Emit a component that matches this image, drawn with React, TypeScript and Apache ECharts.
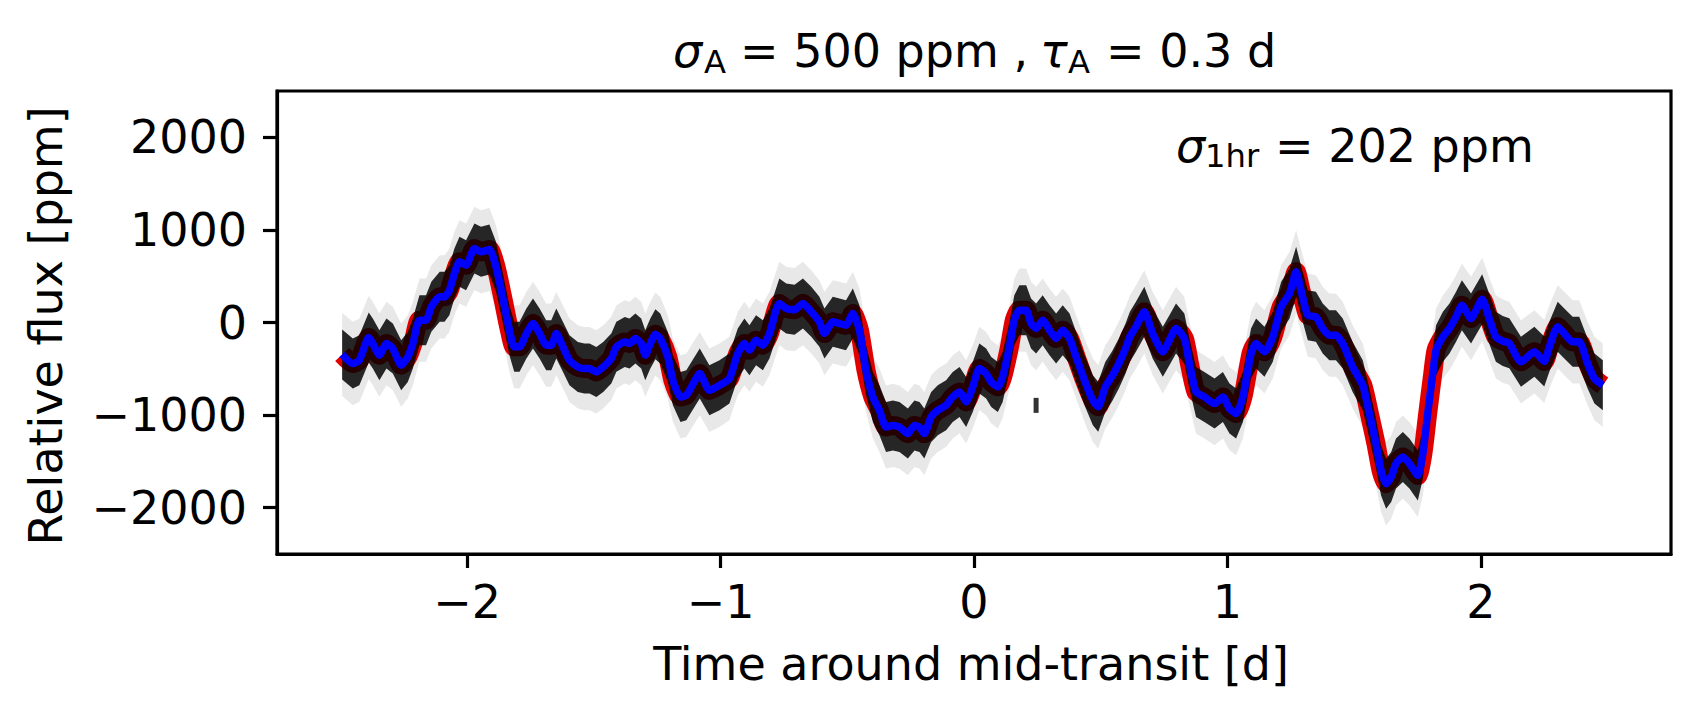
import React, { useEffect, useRef } from "react";
import * as echarts from "echarts";

// ---- data ----
// time around mid-transit [d] for the blue (smoothed) light curve
const timeDays = [
  -2.493, -2.451, -2.425, -2.388, -2.372, -2.346, -2.318, -2.293, -2.26, -2.234,
  -2.214, -2.188, -2.162, -2.141, -2.108, -2.089, -2.07, -2.05, -2.03, -2.004,
  -1.971, -1.945, -1.912, -1.886, -1.86, -1.833, -1.814, -1.793, -1.766, -1.74,
  -1.714, -1.688, -1.668, -1.648, -1.622, -1.596, -1.563, -1.537, -1.517, -1.49,
  -1.463, -1.431, -1.411, -1.378, -1.359, -1.336, -1.313, -1.297, -1.277, -1.257,
  -1.238, -1.208, -1.188, -1.158, -1.135, -1.115, -1.082, -1.044, -1.004, -0.965,
  -0.932, -0.906, -0.886, -0.86, -0.833, -0.807, -0.768, -0.741, -0.708, -0.675,
  -0.642, -0.61, -0.59, -0.557, -0.531, -0.505, -0.478, -0.452, -0.426, -0.399,
  -0.373, -0.347, -0.32, -0.294, -0.261, -0.235, -0.215, -0.196, -0.169, -0.143,
  -0.11, -0.084, -0.057, -0.031, -0.005, 0.021, 0.048, 0.068, 0.094, 0.113,
  0.14, 0.159, 0.179, 0.206, 0.225, 0.245, 0.271, 0.298, 0.324, 0.35,
  0.377, 0.403, 0.436, 0.469, 0.49, 0.518, 0.545, 0.572, 0.598, 0.615,
  0.639, 0.672, 0.705, 0.745, 0.771, 0.797, 0.83, 0.85, 0.876, 0.909,
  0.949, 0.982, 1.008, 1.034, 1.061, 1.093, 1.113, 1.146, 1.179, 1.212,
  1.245, 1.271, 1.29, 1.317, 1.349, 1.376, 1.402, 1.428, 1.455, 1.494,
  1.534, 1.56, 1.586, 1.606, 1.626, 1.646, 1.665, 1.692, 1.718, 1.751,
  1.771, 1.79, 1.81, 1.823, 1.85, 1.876, 1.902, 1.925, 1.961, 2.005,
  2.033, 2.059, 2.086, 2.112, 2.158, 2.211, 2.25, 2.27, 2.303, 2.329,
  2.362, 2.388, 2.421, 2.448, 2.481,
];

// relative flux [ppm] of the blue curve at those times
const smoothFlux = [
  -345, -443, -408, -162, -227, -353, -227, -281, -461, -372,
  -227, 25, 25, 169, 277, 277, 349, 530, 655, 619,
  800, 763, 789, 601, 277, -83, -263, -263, -119, -11,
  -119, -245, -245, -119, -263, -408, -480, -498, -498, -534,
  -480, -389, -263, -210, -227, -173, -227, -353, -227, -126,
  -173, -372, -624, -804, -786, -696, -552, -732, -678, -605,
  -335, -227, -299, -191, -245, -119, 205, 151, 139, 205,
  115, 7, -119, 7, -11, -29, 97, -83, -516, -804,
  -948, -1129, -1111, -1129, -1200, -1111, -1129, -1200, -1020, -948,
  -894, -804, -750, -858, -696, -497, -552, -642, -696, -588,
  -263, 25, 133, 133, -11, -65, 25, -83, -173, -83,
  -173, -372, -624, -840, -910, -696, -580, -440, -280, -155,
  -47, 115, -119, -317, -191, -65, -173, -443, -750, -804,
  -876, -804, -930, -984, -804, -335, -227, -317, -155, 169,
  313, 547, 349, 79, 61, -65, -137, -137, -227, -480,
  -678, -984, -1308, -1597, -1741, -1669, -1524, -1453, -1524, -1651,
  -1417, -984, -552, -299, -155, -65, 61, 187, 43, 250,
  40, -155, -200, -225, -425, -317, -420, -263, -47, -119,
  -209, -209, -443, -605, -678,
];

// spread of the black data points around the curve [ppm]
const CLOUD_CORE_PPM = 270;
const CLOUD_HALO_PPM = 450;

// the small vertical black mark
const markerPoints = [[0.245, -895]];

const xTicks = [-2, -1, 0, 1, 2];
const yTicks = [-2000, -1000, 0, 1000, 2000];
const X_MIN = -2.75;
const X_MAX = 2.75;
const Y_MIN = -2500;
const Y_MAX = 2500;

const FONT = "'DejaVu Sans', 'Noto Sans', sans-serif";
const FS = 46;
const SUB = FS * 0.7;
const CENTRAL = 0.346; // central baseline offset (em) for DejaVu Sans

const fmt = (v: number) => (v < 0 ? "\u2212" + Math.abs(v) : String(v));

function txt(
  text: string,
  x: number,
  baseline: number,
  size: number,
  italic = false,
  align = "left",
  rotation = 0
) {
  return {
    type: "text",
    x,
    y: rotation ? baseline : baseline - CENTRAL * size,
    rotation,
    silent: true,
    z: 100,
    style: {
      text,
      fontSize: size,
      fontFamily: FONT,
      fontStyle: italic ? "italic" : "normal",
      fill: "#000",
      textAlign: align,
      align,
      textVerticalAlign: "middle",
      verticalAlign: "middle",
    },
  };
}

export default function App() {
  const ref = useRef<HTMLDivElement>(null);

  useEffect(() => {
    if (!ref.current) return;
    const chart = echarts.init(ref.current, null, { renderer: "svg" });
    const curve = timeDays.map((t, i) => [t, smoothFlux[i]]);

    const band = (half: number, fill: string, z: number) => ({
      type: "custom",
      coordinateSystem: "cartesian2d",
      silent: true,
      clip: true,
      z,
      data: [[0, 0]],
      renderItem: (_params: any, api: any) => {
        const up = timeDays.map((t, i) => api.coord([t, smoothFlux[i] + half]));
        const lo = timeDays
          .map((t, i) => api.coord([t, smoothFlux[i] - half]))
          .reverse();
        return {
          type: "polygon",
          shape: { points: up.concat(lo) },
          style: { fill, stroke: "none" },
        };
      },
    });

    const axisCommon = {
      type: "value",
      axisLine: { show: true, onZero: false, lineStyle: { color: "#000", width: 3.2 } },
      splitLine: { show: false },
    };

    chart.setOption({
      animation: false,
      backgroundColor: "#fff",
      grid: {
        left: 277,
        top: 91,
        right: 29,
        bottom: 165,
        containLabel: false,
        outerBoundsMode: "none",
        show: true,
        borderColor: "#000",
        borderWidth: 3.2,
        backgroundColor: "transparent",
      },
      xAxis: {
        ...axisCommon,
        min: X_MIN,
        max: X_MAX,
        axisTick: {
          show: true,
          length: 14,
          customValues: xTicks,
          lineStyle: { color: "#000", width: 3.2 },
        },
        axisLabel: {
          customValues: xTicks,
          formatter: fmt,
          margin: 25,
          fontSize: FS,
          fontFamily: FONT,
          color: "#000",
        },
      },
      yAxis: {
        ...axisCommon,
        min: Y_MIN,
        max: Y_MAX,
        axisTick: {
          show: true,
          length: 14,
          customValues: yTicks,
          lineStyle: { color: "#000", width: 3.2 },
        },
        axisLabel: {
          customValues: yTicks,
          formatter: fmt,
          margin: 30,
          fontSize: FS,
          fontFamily: FONT,
          color: "#000",
        },
      },
      series: [
        band(CLOUD_HALO_PPM, "rgba(0,0,0,0.09)", 1),
        {
          type: "line",
          z: 2,
          data: curve,
          showSymbol: false,
          symbol: "none",
          silent: true,
          smooth: 0.2,
          lineStyle: { color: "#e00000", width: 19, join: "round", cap: "butt" },
        },
        band(CLOUD_CORE_PPM, "rgba(0,0,0,0.84)", 3),
        {
          type: "line",
          z: 4,
          data: curve,
          showSymbol: false,
          symbol: "none",
          silent: true,
          smooth: 0.2,
          lineStyle: { color: "#0000ff", width: 7.5, join: "round", cap: "butt" },
        },
        {
          type: "scatter",
          z: 5,
          data: markerPoints,
          symbol: "rect",
          symbolSize: [5, 15],
          silent: true,
          itemStyle: { color: "#000" },
        },
      ],
      graphic: [
        // title
        txt("\u03c3", 673, 67, FS, true),
        txt("A", 704, 72.7, SUB),
        txt("= 500 ppm ,", 740, 67, FS),
        txt("\u03c4", 1040, 67, FS, true),
        txt("A", 1068, 72.7, SUB),
        txt("= 0.3 d", 1106, 67, FS),
        // annotation
        txt("\u03c3", 1176, 161.7, FS, true),
        txt("1hr", 1205, 167.3, SUB),
        txt("= 202 ppm", 1275, 161.7, FS),
        // axis titles
        txt("Time around mid-transit [d]", 971, 680, FS, false, "center"),
        txt("Relative flux [ppm]", 46, 326, FS, false, "center", Math.PI / 2),
      ],
    });

    return () => chart.dispose();
  }, []);

  return (
    <div
      ref={ref}
      style={{ position: "fixed", left: 0, top: 0, width: 1700, height: 719, background: "#fff" }}
    />
  );
}
